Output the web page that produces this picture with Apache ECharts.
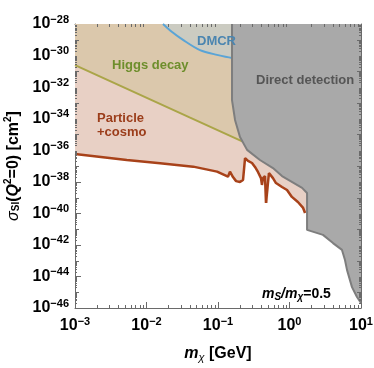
<!DOCTYPE html>
<html><head><meta charset="utf-8">
<script src="https://cdn.jsdelivr.net/npm/echarts@6/dist/echarts.min.js"></script>
<style>html,body{margin:0;padding:0;background:#fff}#c{width:374px;height:368px}</style>
</head><body><div id="c"></div>
<script>
// ---- data (mass in GeV, cross-section in cm^2) ----
const xRange = [1e-3, 10];
const yRange = [1e-46, 1e-28];
const xTickExponents = [-3, -2, -1, 0, 1];
const yTickExponents = [-46, -44, -42, -40, -38, -36, -34, -32, -30, -28];

const particleCosmo = [
  [1e-3, 5.8e-37], [5.3e-3, 2.4e-37], [1.55e-2, 1.5e-37], [4.5e-2, 9.1e-38],
  [9.7e-2, 4.4e-38], [0.138, 2.1e-38], [0.147, 4.4e-38], [0.162, 2.0e-38],
  [0.179, 1.1e-38], [0.203, 9.8e-39], [0.224, 1.3e-38], [0.239, 3.2e-37],
  [0.263, 2.1e-37], [0.299, 1.55e-37], [0.329, 8.7e-38], [0.362, 4.2e-38],
  [0.399, 1.7e-38], [0.412, 6.3e-39], [0.426, 1.7e-38], [0.454, 2.3e-38],
  [0.469, 4.6e-40], [0.500, 4.6e-40], [0.516, 3.6e-38], [0.587, 1.7e-38],
  [0.647, 8.3e-39], [0.785, 4.7e-39], [0.923, 3.0e-39], [1.08, 1.1e-39],
  [1.31, 5.2e-40], [1.55, 2.2e-40], [1.65, 1.05e-40]
];
const particleFillEdge = [[1.76, 1.0e-40]];

const higgsDecay = [[1e-3, 2.5e-31], [0.04, 1.2e-34], [0.3, 1.9e-36]];

const dmcr = [
  [0.017, 1e-28], [0.0228, 3.1e-29], [0.0324, 9.8e-30], [0.056, 2.2e-30],
  [0.097, 1.1e-30], [0.157, 7.1e-31], [0.17, 7.0e-31]
];

const directDetection = [
  [0.157, 1e-28], [0.157, 1.5e-33], [0.173, 8.3e-35], [0.203, 6.9e-36],
  [0.255, 1.05e-36], [0.386, 2.4e-37], [0.587, 7.4e-38], [0.785, 2.3e-38],
  [1.50, 4.1e-39], [1.76, 1.95e-39], [1.76, 8.9e-42], [2.94, 4.3e-42],
  [4.06, 1.3e-42], [5.42, 4.8e-43], [5.97, 1.1e-43], [6.37, 2.6e-44],
  [7.48, 2.1e-45], [8.79, 5.0e-46], [10, 2.1e-46]
];

// ---- tick positions (log-axis minor ticks) ----
function minorVals(e0, e1) {
  const out = [];
  for (let e = e0; e < e1; e++) for (let k = 2; k <= 9; k++) out.push(k * Math.pow(10, e));
  return out;
}
const xMinor = minorVals(-3, 1);
const yMinor = minorVals(-46, -28);
const yOdd = []; for (let e = -45; e <= -29; e += 2) yOdd.push(Math.pow(10, e));

const frame = '#6a6a6a';
const F = '"Liberation Sans", Arial, sans-serif';
function expLabel(e) {
  e = Math.round(e);
  return '{b|10}{e|' + (e < 0 ? '\u2212' + (-e) : e) + '}';
}
const labelRich = {
  b: { fontSize: 16, fontWeight: 'bold', color: '#000', fontFamily: F },
  e: { fontSize: 11, fontWeight: 'bold', color: '#000', fontFamily: F, padding: [0, 0, 9, 0] }
};

function regionSeries(name, pts, color, z) {
  return {
    type: 'custom', name: name, z: z, silent: true, clip: true,
    data: [pts[0]],
    renderItem: function (params, api) {
      const poly = pts.map(function (p) { return api.coord(p); });
      poly.push(api.coord([pts[pts.length - 1][0], yRange[1]]));
      poly.push(api.coord([pts[0][0], yRange[1]]));
      return { type: 'polygon', shape: { points: poly }, style: { fill: color } };
    }
  };
}

function tickSeries() {
  return {
    type: 'custom', name: 'minor ticks', z: 30, silent: true, clip: false,
    data: [[1, 1e-30]],
    renderItem: function (params, api) {
      const ch = [];
      const st = { stroke: frame, lineWidth: 1 };
      function seg(x1, y1, x2, y2) { ch.push({ type: 'line', shape: { x1: x1, y1: y1, x2: x2, y2: y2 }, style: st }); }
      xMinor.forEach(function (v) {
        const b = api.coord([v, yRange[0]]), t = api.coord([v, yRange[1]]);
        const x = Math.round(b[0]) + 0.5;
        seg(x, b[1], x, b[1] - 3); seg(x, t[1], x, t[1] + 3);
      });
      yMinor.forEach(function (v) {
        const l = api.coord([xRange[0], v]), r = api.coord([xRange[1], v]);
        const y = Math.round(l[1]) + 0.5;
        seg(l[0], y, l[0] + 2, y); seg(r[0], y, r[0] - 2, y);
      });
      yOdd.forEach(function (v) {
        const l = api.coord([xRange[0], v]), r = api.coord([xRange[1], v]);
        const y = Math.round(l[1]) + 0.5;
        seg(l[0], y, l[0] + 4, y); seg(r[0], y, r[0] - 4, y);
      });
      return { type: 'group', children: ch };
    }
  };
}

const logAxis = {
  type: 'log', logBase: 10,
  axisLine: { show: true, onZero: false, lineStyle: { color: frame, width: 1 } },
  axisTick: { show: false }, axisLabel: { show: false },
  splitLine: { show: false }, minorTick: { show: false }
};
const expAxis = {
  type: 'value',
  axisLine: { show: false, onZero: false },
  axisTick: { show: true, inside: true, length: 6, lineStyle: { color: frame } },
  splitLine: { show: false }, minorTick: { show: false }
};
const lx = Math.log10;

const chart = echarts.init(document.getElementById('c'), null, { renderer: 'canvas' });
chart.setOption({
  animation: false,
  backgroundColor: '#fff',
  grid: { left: 75, top: 24, right: 13, bottom: 60, containLabel: false, outerBoundsMode: 'none' },
  xAxis: [
    Object.assign({}, logAxis, { position: 'bottom', min: xRange[0], max: xRange[1] }),
    Object.assign({}, logAxis, { position: 'top', min: xRange[0], max: xRange[1] }),
    Object.assign({}, expAxis, {
      position: 'bottom', min: lx(xRange[0]), max: lx(xRange[1]), interval: 1,
      axisLabel: { formatter: expLabel, rich: labelRich, margin: 8, customValues: xTickExponents },
      name: '{i|m}{s|\u03c7}{n| [GeV]}', nameLocation: 'middle', nameGap: 36,
      nameTextStyle: { rich: {
        i: { fontSize: 16, fontWeight: 'bold', fontStyle: 'italic', fontFamily: F, color: '#000' },
        s: { fontSize: 11, fontStyle: 'italic', fontFamily: F, color: '#000', padding: [8, 0, 0, 0] },
        n: { fontSize: 16, fontWeight: 'bold', fontFamily: F, color: '#000' }
      } }
    }),
    Object.assign({}, expAxis, { position: 'top', min: lx(xRange[0]), max: lx(xRange[1]), interval: 1, axisLabel: { show: false } })
  ],
  yAxis: [
    Object.assign({}, logAxis, { position: 'left', min: yRange[0], max: yRange[1] }),
    Object.assign({}, logAxis, { position: 'right', min: yRange[0], max: yRange[1] }),
    Object.assign({}, expAxis, {
      position: 'left', min: -46, max: -28, interval: 2,
      axisLabel: { formatter: expLabel, rich: labelRich, margin: 6 },
      name: '{g|\u03c3}{s|SI}{n|(}{i|Q}{e|2}{n|=0) [cm}{e|2}{n|]}', nameLocation: 'middle', nameGap: 49, nameRotate: 90,
      nameTextStyle: { rich: {
        g: { fontSize: 16, fontStyle: 'italic', fontFamily: F, color: '#000' },
        s: { fontSize: 10, fontWeight: 'bold', fontFamily: F, color: '#000', padding: [7, 0, 0, 0] },
        i: { fontSize: 16, fontWeight: 'bold', fontStyle: 'italic', fontFamily: F, color: '#000' },
        e: { fontSize: 10, fontWeight: 'bold', fontFamily: F, color: '#000', padding: [0, 0, 9, 0] },
        n: { fontSize: 16, fontWeight: 'bold', fontFamily: F, color: '#000' }
      } }
    }),
    Object.assign({}, expAxis, { position: 'right', min: -46, max: -28, interval: 2, axisLabel: { show: false } })
  ],
  series: [
    regionSeries('Particle+cosmo region', particleCosmo.concat(particleFillEdge), '#e8d0c5', 1),
    regionSeries('Higgs decay region', higgsDecay, '#dbc8ac', 2),
    { type: 'line', name: 'Higgs decay', data: higgsDecay, showSymbol: false, silent: true, z: 3,
      lineStyle: { color: '#aaa548', width: 2 } },
    { type: 'line', name: 'Particle+cosmo', data: particleCosmo, showSymbol: false, silent: true, z: 3,
      lineStyle: { color: '#a8421a', width: 2.5 } },
    regionSeries('DMCR region', dmcr, '#cbcbc1', 4),
    { type: 'line', name: 'DMCR', data: dmcr, showSymbol: false, silent: true, z: 5, smooth: 0.3,
      lineStyle: { color: '#5aa4d6', width: 2 } },
    regionSeries('Direct detection region', directDetection, '#a9a9a9', 6),
    { type: 'line', name: 'Direct detection', data: directDetection, showSymbol: false, silent: true, z: 7,
      lineStyle: { color: '#7e7e7e', width: 2 } },
    tickSeries()
  ],
  graphic: [
    { type: 'text', left: 112, top: 59, z: 10, style: { text: 'Higgs decay', fill: '#6e8e2c', font: 'bold 13px ' + F } },
    { type: 'text', left: 97, top: 111, z: 10, style: { text: 'Particle\n+cosmo', fill: '#9b3d1b', font: 'bold 13px ' + F, lineHeight: 14 } },
    { type: 'text', left: 197, top: 35, z: 10, style: { text: 'DMCR', fill: '#4a85b0', font: 'bold 13px ' + F } },
    { type: 'text', left: 256, top: 74, z: 10, style: { text: 'Direct detection', fill: '#555555', font: 'bold 13px ' + F } },
    { type: 'text', left: 262, top: 287, z: 10, style: {
      text: '{i|m}{s|S}{i|/m}{s|\u03c7}{n|=0.5}',
      rich: {
        i: { fontSize: 14, fontWeight: 'bold', fontStyle: 'italic', fontFamily: F, fill: '#000' },
        s: { fontSize: 10, fontWeight: 'bold', fontStyle: 'italic', fontFamily: F, fill: '#000', padding: [6, 0, 0, 0] },
        n: { fontSize: 14, fontWeight: 'bold', fontFamily: F, fill: '#000' }
      } } }
  ]
});
</script>
</body></html>
